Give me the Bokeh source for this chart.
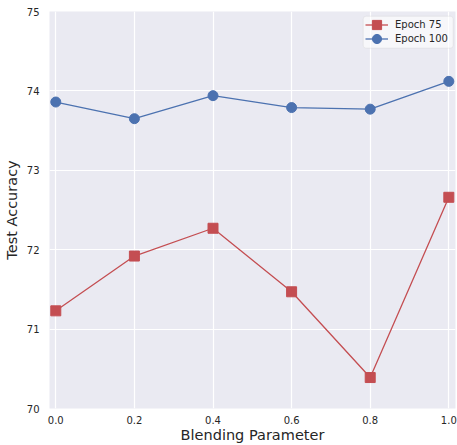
from bokeh.plotting import figure
from bokeh.models import Range1d, FixedTicker, Legend, LegendItem, BoxAnnotation
from bokeh.embed import file_html
from bokeh.resources import INLINE

blend = [0.0, 0.2, 0.4, 0.6, 0.8, 1.0]
epoch75 = [71.23, 71.92, 72.27, 71.47, 70.39, 72.66]
epoch100 = [73.86, 73.65, 73.94, 73.79, 73.77, 74.12]
x_ticks = [0.0, 0.2, 0.4, 0.6, 0.8, 1.0]
y_ticks = [70, 71, 72, 73, 74, 75]
series_labels = ["Epoch 75", "Epoch 100"]

RED = "#C44E52"
BLUE = "#4C72B0"
FONT = "DejaVu Sans"

p = figure(width=457, height=445, output_backend="svg", toolbar_location=None,
           x_range=Range1d(-0.016, 1.017), y_range=Range1d(70, 75),
           min_border_left=47, min_border_right=2, min_border_top=11, min_border_bottom=37)

p.background_fill_color = "#EAEAF2"
p.border_fill_color = "white"
p.outline_line_color = None

for ax in (p.xaxis, p.yaxis):
    ax.axis_line_color = None
    ax.major_tick_line_color = None
    ax.minor_tick_line_color = None
    ax.major_tick_out = 0
    ax.major_tick_in = 0
    ax.major_label_text_font = FONT
    ax.major_label_text_font_size = "10px"
    ax.major_label_text_color = "#262626"
    ax.axis_label_text_font = FONT
    ax.axis_label_text_font_size = "14.5px"
    ax.axis_label_text_font_style = "normal"
    ax.axis_label_text_color = "#262626"

p.xaxis.ticker = FixedTicker(ticks=x_ticks)
p.yaxis.ticker = FixedTicker(ticks=y_ticks)
p.xaxis.major_label_overrides = {t: f"{t:.1f}" for t in x_ticks}
p.xaxis.axis_label = "Blending Parameter"
p.yaxis.axis_label = "Test Accuracy"
p.xaxis.major_label_standoff = 7
p.yaxis.major_label_standoff = 10
p.xaxis.axis_label_standoff = 0
p.yaxis.axis_label_standoff = 4

p.xgrid.grid_line_color = "white"
p.ygrid.grid_line_color = "white"
p.xgrid.grid_line_width = 1.2
p.ygrid.grid_line_width = 1.2

l1 = p.line(blend, epoch75, line_color=RED, line_width=1.3)
m1 = p.scatter(blend, epoch75, marker="square", size=10, fill_color=RED, line_color=RED)
l2 = p.line(blend, epoch100, line_color=BLUE, line_width=1.3)
m2 = p.scatter(blend, epoch100, marker="circle", size=10, fill_color=BLUE, line_color=BLUE)

# legend frame (screen units relative to the plot frame, y from bottom)
box = BoxAnnotation(left=313.7, right=403.7, bottom=360.3, top=392.3,
                    left_units="screen", right_units="screen",
                    bottom_units="screen", top_units="screen",
                    fill_color="white", fill_alpha=0.6,
                    line_color="#CCCCCC", line_width=1, border_radius=3)
p.add_layout(box)

def make_legend(label, rends, loc):
    lg = Legend(items=[LegendItem(label=label, renderers=rends)], location=loc)
    lg.label_text_font = FONT
    lg.label_text_font_size = "10px"
    lg.label_text_color = "#262626"
    lg.background_fill_alpha = 0
    lg.border_line_color = None
    lg.glyph_width = 23
    lg.glyph_height = 23
    lg.label_height = 14
    lg.label_standoff = 7
    lg.padding = 0
    lg.spacing = 0
    lg.margin = 0
    return lg

p.add_layout(make_legend(series_labels[0], [l1, m1], (316, 372.5)))
p.add_layout(make_legend(series_labels[1], [l2, m2], (316, 358.5)))

open("out.html", "w").write(file_html(p, INLINE))
